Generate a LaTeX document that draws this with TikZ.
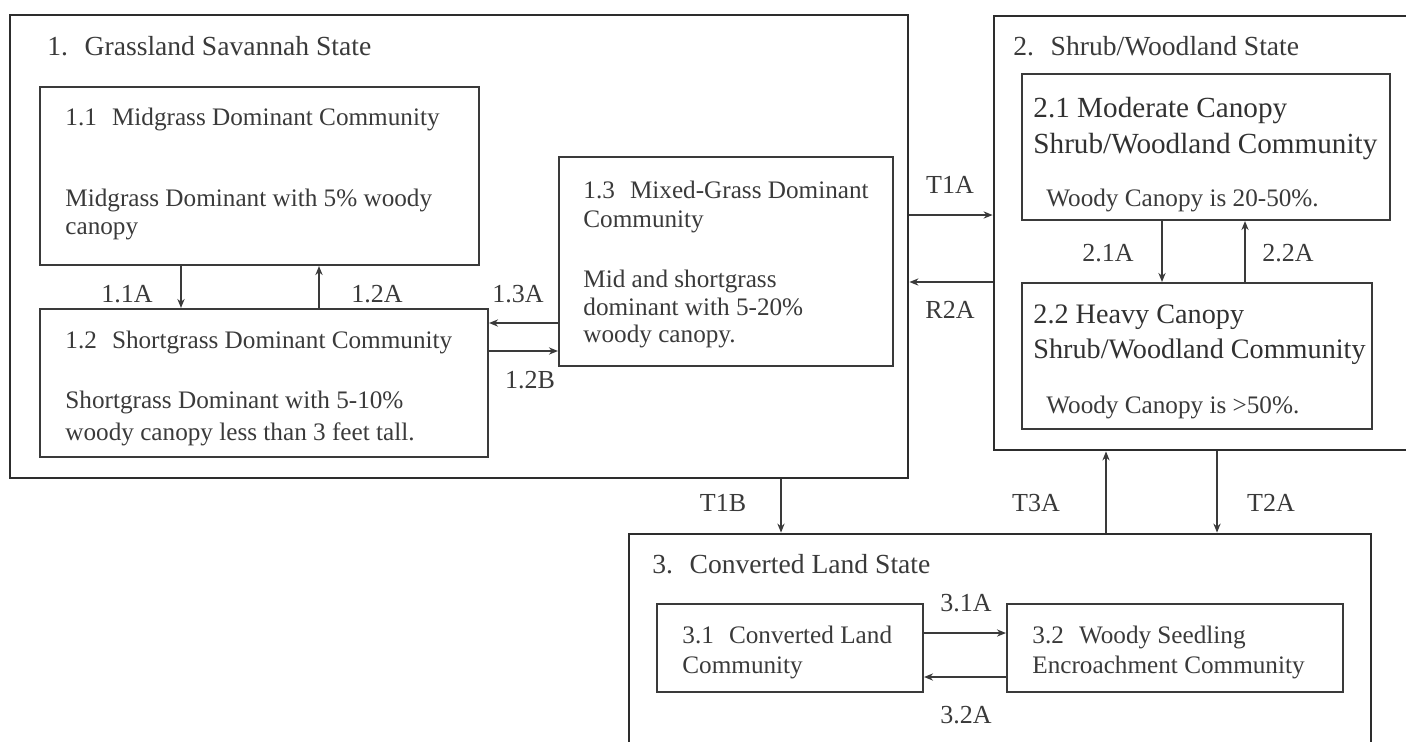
\documentclass[tikz,border=0pt]{standalone}
\usepackage{fontspec}
\setmainfont{Liberation Serif}
\usetikzlibrary{arrows.meta,positioning,fit,calc}
\definecolor{ink}{RGB}{58,58,58}
\definecolor{frame}{RGB}{45,45,45}
\tikzset{
  statebox/.style={draw=frame,line width=1.4pt,inner sep=0pt,fit={#1}},
  commbox/.style={draw=ink,line width=1.05pt,inner sep=0pt,fit={#1}},
  txt/.style={anchor=base west,inner sep=0pt,text=ink,font=\fontsize{12.6}{15}\selectfont},
  titletxt/.style={anchor=base west,inner sep=0pt,text=ink,font=\fontsize{13.8}{16}\selectfont},
  bigtxt/.style={anchor=base west,inner sep=0pt,text=ink!85!black,font=\fontsize{14.6}{17}\selectfont},
  bigtxtb/.style={anchor=base west,inner sep=0pt,text=ink!85!black,font=\fontsize{14.1}{17}\selectfont},
  lbl/.style={anchor=center,inner sep=0pt,text=ink,font=\fontsize{13}{15}\selectfont},
  arr/.style={draw=ink,line width=0.75pt,-{Stealth[length=4.5pt,width=3.6pt]}},
}
\begin{document}
\begin{tikzpicture}[x=0.5pt,y=-0.5pt]
\useasboundingbox (0,0) rectangle (1406,741);
% state boxes
\node[statebox={(10,15) (908,478)}] (s1) {};
\node[statebox={(994,16) (1422,450)}] (s2) {};
\node[statebox={(629,534) (1371,770)}] (s3) {};
% community boxes
\node[commbox={(40,87) (479,265)}] (b11) {};
\node[commbox={(40,309) (488,457)}] (b12) {};
\node[commbox={(559,157) (893,366)}] (b13) {};
\node[commbox={(1022,74) (1390,220)}] (b21) {};
\node[commbox={(1022,283) (1372,429)}] (b22) {};
\node[commbox={(657,604) (923,692)}] (b31) {};
\node[commbox={(1007,604) (1343,692)}] (b32) {};
% texts state 1
\node[titletxt] (t1) at (47,55) {1.\hspace{0.6em}Grassland Savannah State};
\node[txt] (t11a) at (65,125) {1.1\hspace{0.6em}Midgrass Dominant Community};
\node[txt] (t11b) at (65,206) {Midgrass Dominant with 5\% woody};
\node[txt] (t11c) at (65,234) {canopy};
\node[txt] (t12a) at (65,348) {1.2\hspace{0.6em}Shortgrass Dominant Community};
\node[txt] (t12b) at (65,408) {Shortgrass Dominant with 5-10\%};
\node[txt] (t12c) at (65,440) {woody canopy less than 3 feet tall.};
\node[txt] (t13a) at (583,198) {1.3\hspace{0.6em}Mixed-Grass Dominant};
\node[txt] (t13b) at (583,227) {Community};
\node[txt] (t13c) at (583,287) {Mid and shortgrass};
\node[txt] (t13d) at (583,315) {dominant with 5-20\%};
\node[txt] (t13e) at (583,342) {woody canopy.};
% texts state 2
\node[titletxt] (t2) at (1013,55) {2.\hspace{0.6em}Shrub/Woodland State};
\node[bigtxt] (t21a) at (1033,117) {2.1 Moderate Canopy};
\node[bigtxt] (t21b) at (1033,153) {Shrub/Woodland Community};
\node[txt] (t21c) at (1046,206) {Woody Canopy is 20-50\%.};
\node[bigtxtb] (t22a) at (1033,323) {2.2 Heavy Canopy};
\node[bigtxtb] (t22b) at (1033,358) {Shrub/Woodland Community};
\node[txt] (t22c) at (1046,413) {Woody Canopy is >50\%.};
% texts state 3
\node[titletxt] (t3) at (652,573) {3.\hspace{0.6em}Converted Land State};
\node[txt] (t31a) at (682,643) {3.1\hspace{0.6em}Converted Land};
\node[txt] (t31b) at (682,673) {Community};
\node[txt] (t32a) at (1032,643) {3.2\hspace{0.6em}Woody Seedling};
\node[txt] (t32b) at (1032,673) {Encroachment Community};
% labels
\node[lbl] (l11A) at (127,294) {1.1A};
\node[lbl] (l12A) at (377,294) {1.2A};
\node[lbl] (l13A) at (518,294) {1.3A};
\node[lbl] (l12B) at (530,380) {1.2B};
\node[lbl] (lT1A) at (950,185) {T1A};
\node[lbl] (lR2A) at (950,310) {R2A};
\node[lbl] (l21A) at (1108,253) {2.1A};
\node[lbl] (l22A) at (1288,253) {2.2A};
\node[lbl] (lT1B) at (723,503) {T1B};
\node[lbl] (lT3A) at (1036,503) {T3A};
\node[lbl] (lT2A) at (1271,503) {T2A};
\node[lbl] (l31A) at (966,603) {3.1A};
\node[lbl] (l32A) at (966,715) {3.2A};
% connector guide coordinates
\coordinate (x11A) at (181,0);
\coordinate (x12A) at (319,0);
\coordinate (y13A) at (0,323);
\coordinate (y12B) at (0,351);
\coordinate (yT1A) at (0,215);
\coordinate (yR2A) at (0,282);
\coordinate (x21A) at (1162,0);
\coordinate (x22A) at (1245,0);
\coordinate (xT1B) at (781,0);
\coordinate (xT3A) at (1106,0);
\coordinate (xT2A) at (1217,0);
\coordinate (y31A) at (0,633);
\coordinate (y32A) at (0,677);
% connectors
\draw[arr] (b11.south -| x11A) -- (b12.north -| x11A);
\draw[arr] (b12.north -| x12A) -- (b11.south -| x12A);
\draw[arr] (b13.west |- y13A) -- (b12.east |- y13A);
\draw[arr] (b12.east |- y12B) -- (b13.west |- y12B);
\draw[arr] (s1.east |- yT1A) -- (s2.west |- yT1A);
\draw[arr] (s2.west |- yR2A) -- (s1.east |- yR2A);
\draw[arr] (b21.south -| x21A) -- (b22.north -| x21A);
\draw[arr] (b22.north -| x22A) -- (b21.south -| x22A);
\draw[arr] (s1.south -| xT1B) -- (s3.north -| xT1B);
\draw[arr] (s3.north -| xT3A) -- (s2.south -| xT3A);
\draw[arr] (s2.south -| xT2A) -- (s3.north -| xT2A);
\draw[arr] (b31.east |- y31A) -- (b32.west |- y31A);
\draw[arr] (b32.west |- y32A) -- (b31.east |- y32A);
\end{tikzpicture}
\end{document}
